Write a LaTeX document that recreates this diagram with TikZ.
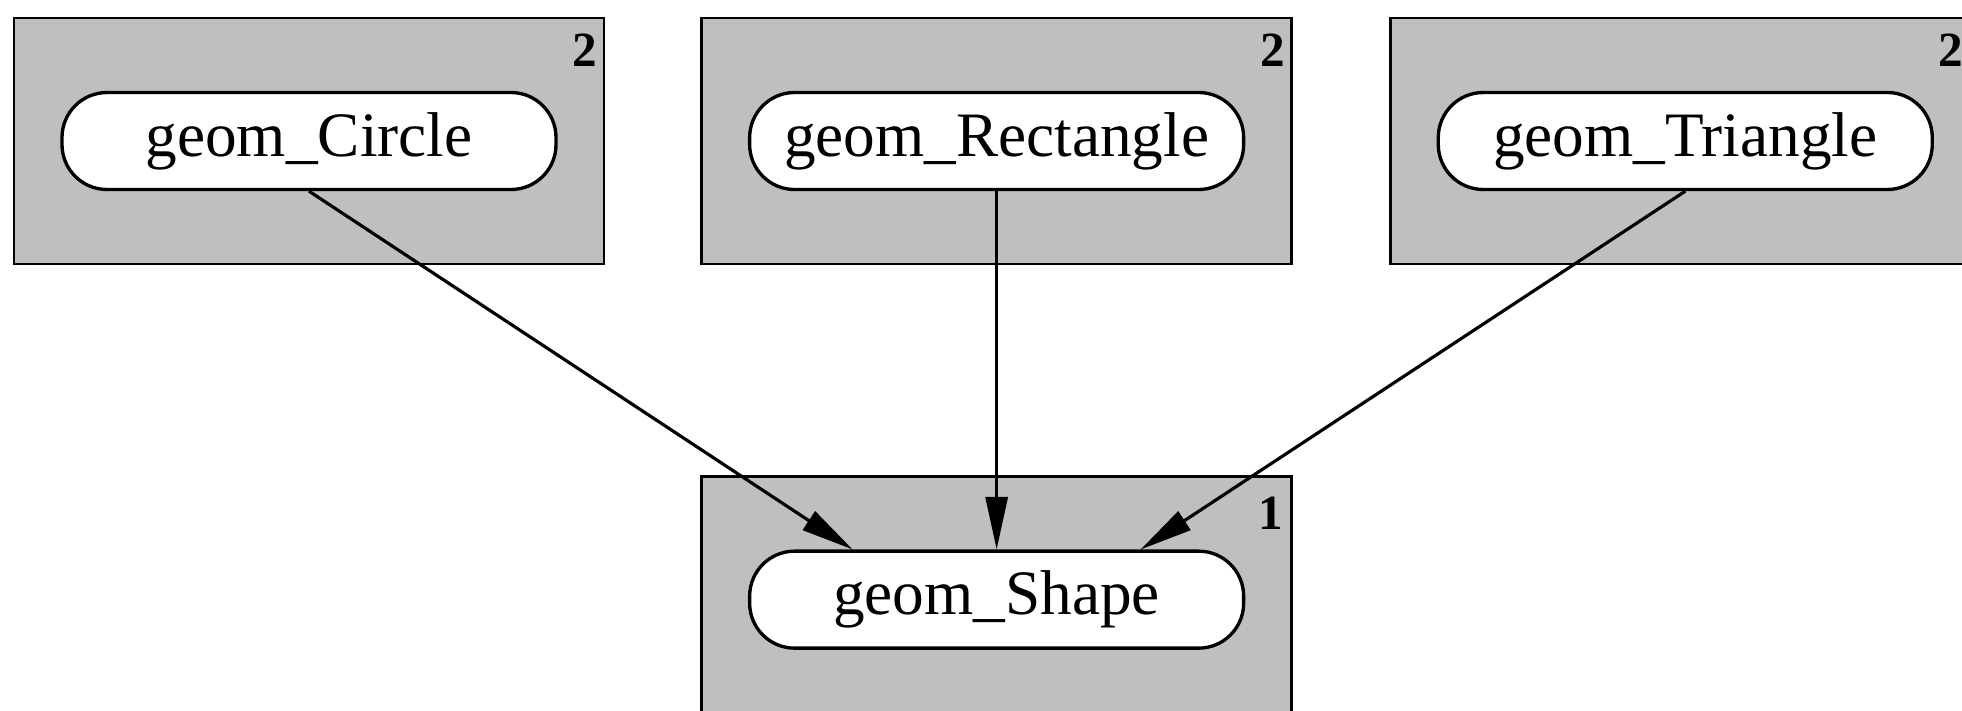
\documentclass[tikz,border=0pt]{standalone}
\usepackage{fontspec}
\setmainfont{Liberation Serif}
\usepackage{tikz}
\usetikzlibrary{arrows.meta,positioning,calc}

\begin{document}
\begin{tikzpicture}[
  caja/.style={draw=black, fill=black!25, line width=1.5pt,
               minimum width=11.8cm, minimum height=4.92cm, inner sep=0pt},
  clase/.style={draw=black, fill=white, line width=1.9pt, rounded corners=0.9cm,
                minimum width=9.88cm, minimum height=1.94cm, inner sep=0pt,
                font=\fontsize{36}{40}\selectfont},
  flecha/.style={-{Triangle[length=1.05cm, width=0.44cm]}, line width=1.8pt},
  num/.style={font=\fontsize{28}{30}\selectfont\bfseries, inner sep=0pt,
              anchor=north east},
]
  \useasboundingbox (0,0) rectangle (39.24,-14.2);
  \clip (0,0) rectangle (39.24,-14.2);

  \node[caja] at (6.18,-2.82)       (cajaCirc) {};
  \node[caja, right=1.9cm of cajaCirc] (cajaRect) {};
  \node[caja, right=1.92cm of cajaRect] (cajaTri) {};
  \node[caja, below=4.2cm of cajaRect]  (cajaForma) {};

  \node[num] at ($(cajaCirc.north east)+(-0.16,-0.34)$)  (nCirc)  {2};
  \node[num] at ($(cajaRect.north east)+(-0.16,-0.34)$)  (nRect)  {2};
  \node[num] at ($(cajaTri.north east)+(-0.36,-0.34)$)   (nTri)   {2};
  \node[num] at ($(cajaForma.north east)+(-0.2,-0.42)$)  (nForma) {1};

  \node[clase] at (cajaCirc)  (circulo)    {geom\_Circle};
  \node[clase] at (cajaRect)  (rectangulo) {geom\_Rectangle};
  \node[clase] at (cajaTri)   (triangulo)  {geom\_Triangle};
  \node[clase] at (cajaForma) (forma)      {geom\_Shape};

  \draw[flecha] (circulo.south)    -- ($(forma.north)+(-2.88,0)$);
  \draw[flecha] (rectangulo.south) -- (forma.north);
  \draw[flecha] (triangulo.south)  -- ($(forma.north)+(2.88,0)$);
\end{tikzpicture}
\end{document}
